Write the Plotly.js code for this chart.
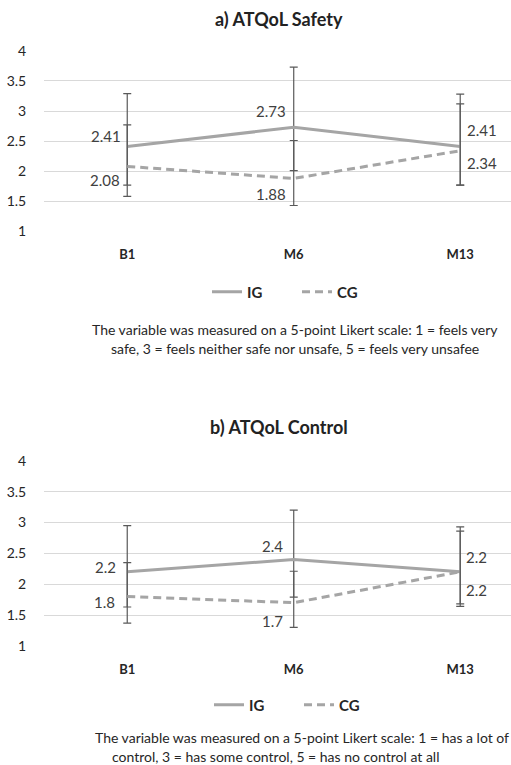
<!DOCTYPE html>
<html><head><meta charset="utf-8">
<script src="https://cdn.plot.ly/plotly-3.0.1.min.js"></script>
<style>html,body{margin:0;padding:0;background:#fff}#chart{width:511px;height:765px}</style>
</head><body><div id="chart"></div>
<script>
// ---- data ----
const categories = ['B1', 'M6', 'M13'];
const seriesNames = ['IG', 'CG'];

const safetyIG = [2.41, 2.73, 2.41];
const safetyCG = [2.08, 1.88, 2.34];
const safetyIGErrPlus = [0.88, 1.00, 0.87];
const safetyIGErrMinus = [0.83, 0.72, 0.64];
const safetyCGErrPlus = [0.69, 0.63, 0.78];
const safetyCGErrMinus = [0.31, 0.45, 0.57];

const controlIG = [2.2, 2.4, 2.2];
const controlCG = [1.8, 1.7, 2.2];
const controlIGErrPlus = [0.75, 0.80, 0.73];
const controlIGErrMinus = [0.57, 0.61, 0.56];
const controlCGErrPlus = [0.55, 0.51, 0.66];
const controlCGErrMinus = [0.43, 0.40, 0.52];

const yTickVals = [1, 1.5, 2, 2.5, 3, 3.5, 4];
const yTickText = ['1', '1.5', '2', '2.5', '3', '3.5', '4'];
const titles = ['a) ATQoL Safety', 'b) ATQoL Control'];
const notesA = ['The variable was measured on a 5-point Likert scale: 1 = feels very',
                'safe, 3 = feels neither safe nor unsafe, 5 = feels very unsafee'];
const notesB = ['The variable was measured on a 5-point Likert scale: 1 = has a lot of',
                'control, 3 = has some control, 5 = has no control at all'];

// ---- layout helpers ----
const W = 511, H = 765;
const px = v => v / W;
const py = v => 1 - v / H;
const FONT = 'Lato, "Open Sans", sans-serif';
const LINE_COLOR = '#a5a5a5';
const ERR_COLOR = '#595959';
const TXT = '#404040';

function errY(plus, minus) {
  return {type: 'data', symmetric: false, array: plus, arrayminus: minus,
          color: ERR_COLOR, thickness: 1.2, width: 4};
}
function makeTrace(name, y, plus, minus, xa, ya, legend, dashed) {
  return {
    type: 'scatter', mode: 'lines', name: name, x: categories, y: y,
    xaxis: xa, yaxis: ya, legend: legend,
    line: {color: LINE_COLOR, width: 3, dash: dashed ? '8px,5px' : 'solid'},
    error_y: errY(plus, minus), hoverinfo: 'x+y+name'
  };
}

const traces = [
  makeTrace(seriesNames[0], safetyIG, safetyIGErrPlus, safetyIGErrMinus, 'x', 'y', 'legend', false),
  makeTrace(seriesNames[1], safetyCG, safetyCGErrPlus, safetyCGErrMinus, 'x', 'y', 'legend', true),
  makeTrace(seriesNames[0], controlIG, controlIGErrPlus, controlIGErrMinus, 'x2', 'y2', 'legend2', false),
  makeTrace(seriesNames[1], controlCG, controlCGErrPlus, controlCGErrMinus, 'x2', 'y2', 'legend2', true)
];

// label placement (style only): [xanchor, xshift, yshift]
const placeA = {
  IG: [['right', -4, 11], ['right', -6, 16], ['left', 5, 17]],
  CG: [['right', -5, -14], ['right', -6, -16], ['left', 5, -12]]
};
const placeB = {
  IG: [['right', -9, 5], ['right', -9, 14], ['left', 4, 15]],
  CG: [['right', -10, -5], ['right', -9, -18], ['left', 4, -18]]
};

const annotations = [];
function addLabels(vals, place, xa, ya, dec) {
  vals.forEach((v, i) => {
    annotations.push({
      xref: xa, yref: ya, x: categories[i], y: v, text: v.toFixed(dec),
      showarrow: false, xanchor: place[i][0], yanchor: 'middle',
      xshift: place[i][1], yshift: place[i][2],
      font: {family: FONT, size: 15, color: TXT}
    });
  });
}
addLabels(safetyIG, placeA.IG, 'x', 'y', 2);
addLabels(safetyCG, placeA.CG, 'x', 'y', 2);
addLabels(controlIG, placeB.IG, 'x2', 'y2', 1);
addLabels(controlCG, placeB.CG, 'x2', 'y2', 1);

function addText(text, x, y, size, bold, color) {
  annotations.push({xref: 'paper', yref: 'paper', x: px(x), y: py(y), text: text,
    showarrow: false, xanchor: 'center', yanchor: 'middle',
    font: {family: FONT, size: size, color: color, weight: bold ? 'bold' : 'normal'}});
}
addText(titles[0], 279, 19, 18, true, '#222222');
addText(titles[1], 279, 427, 18, true, '#222222');
addText(notesA[0], 295, 329, 14, false, '#262626');
addText(notesA[1], 295, 349, 14, false, '#262626');
addText(notesB[0], 302, 737, 14, false, '#262626');
addText(notesB[1], 275, 756, 14, false, '#262626');

const xBase = {
  type: 'category', range: [-0.5, 2.305], domain: [px(44), 1],
  showgrid: false, zeroline: false, showline: false,
  ticks: 'outside', ticklen: 11, tickcolor: 'rgba(0,0,0,0)',
  tickfont: {family: FONT, size: 13, color: '#262626', weight: 'bold'},
  fixedrange: true
};
const yBase = {
  range: [0.998, 4.002], tickvals: yTickVals, ticktext: yTickText,
  showgrid: true, gridcolor: '#d9d9d9', gridwidth: 1,
  zeroline: false, showline: false,
  ticks: 'outside', ticklen: 14, tickcolor: 'rgba(0,0,0,0)',
  tickfont: {family: FONT, size: 14, color: '#262626'},
  fixedrange: true
};

const legendBase = {
  orientation: 'h', xanchor: 'left', yanchor: 'middle',
  font: {family: FONT, size: 15, color: '#262626', weight: 'bold'},
  bgcolor: 'rgba(0,0,0,0)', entrywidth: 45, traceorder: 'normal'
};

const layout = {
  width: W, height: H,
  margin: {l: 0, r: 0, t: 0, b: 0},
  paper_bgcolor: '#ffffff', plot_bgcolor: '#ffffff',
  showlegend: true,
  xaxis: Object.assign({}, xBase, {anchor: 'y'}),
  yaxis: Object.assign({}, yBase, {anchor: 'x', domain: [py(231.5), py(50.7)]}),
  xaxis2: Object.assign({}, xBase, {anchor: 'y2'}),
  yaxis2: Object.assign({}, yBase, {anchor: 'x2', domain: [py(646), py(460.7)]}),
  legend: Object.assign({}, legendBase, {x: px(207), y: py(292)}),
  legend2: Object.assign({}, legendBase, {x: px(209), y: py(705)}),
  annotations: annotations
};

Plotly.newPlot('chart', traces, layout, {displayModeBar: false, staticPlot: true});
</script>
</body></html>
